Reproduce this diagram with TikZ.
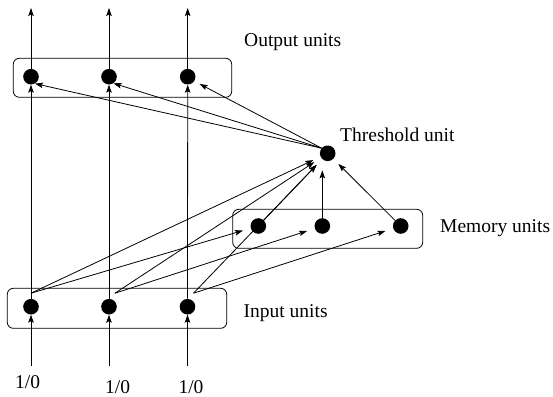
\documentclass[tikz,border=0pt]{standalone}
\usepackage{fontspec}
\setmainfont{Liberation Serif}
\usetikzlibrary{arrows.meta}
\begin{document}
\begin{tikzpicture}[x=1pt,y=-1pt,
 unit/.style={circle,fill=black,inner sep=0pt,minimum size=15.6pt},
 arr/.style={-{Stealth[length=8pt,width=5.5pt,inset=1.5pt]},line width=0.8pt},
 grp/.style={draw,rounded corners=6pt,line width=0.8pt},
 lbl/.style={anchor=base west,inner sep=0pt,font=\fontsize{19.5}{23}\selectfont}]
\useasboundingbox (0,0) rectangle (553,396);

% group boxes
\draw[grp] (13.3,58.3) rectangle (231.7,97.3);
\draw[grp] (7.3,288.3) rectangle (226.7,328.3);
\draw[grp] (232.7,209.3) rectangle (422.7,248.3);

% units
\node[unit] (o1) at (31,76.7) {};
\node[unit] (o2) at (109,76.7) {};
\node[unit] (o3) at (187.7,76.7) {};
\node[unit] (i1) at (31,306.7) {};
\node[unit] (i2) at (109,306.7) {};
\node[unit] (i3) at (187.5,306.7) {};
\node[unit] (m1) at (258.3,226) {};
\node[unit] (m2) at (322.3,226) {};
\node[unit] (m3) at (400.7,226) {};
\node[unit] (thr) at (327.7,153.3) {};

% labels
\node[lbl] (lo) at (244,46) {Output units};
\node[lbl] (lt) at (340,141) {Threshold unit};
\node[lbl] (lm) at (440,232) {Memory units};
\node[lbl] (li) at (243.5,317) {Input units};
\node[lbl] (x1) at (15,388.5) {1/0};
\node[lbl] (x2) at (105,393.3) {1/0};
\node[lbl] (x3) at (178.3,393.3) {1/0};

% free ends
\coordinate (t1) at (31,8);
\coordinate (t2) at (109,8);
\coordinate (t3) at (187.7,8);
\coordinate (b1) at (31,366);
\coordinate (b2) at (109,366);
\coordinate (b3) at (187.5,366);
\coordinate (s1) at ([yshift=5.5pt]i1.north);
\coordinate (s2) at ([xshift=6pt,yshift=5.5pt]i2.north);
\coordinate (s3) at ([xshift=6pt,yshift=5.5pt]i3.north);

% output arrows
\draw[arr] (o1) -- (t1);
\draw[arr] (o2) -- (t2);
\draw[arr] (o3) -- (t3);

% inputs
\draw[arr] (b1) -- (i1);
\draw[arr] (b2) -- (i2);
\draw[arr] (b3) -- (i3);

% input -> output
\draw[arr] (i1.north) -- (o1.south);
\draw[arr] (i2.north) -- (o2.south);
\draw[arr] (i3.north) -- (o3.south);

% threshold -> outputs
\draw[arr] (thr.140) -- (o1.-60);
\draw[arr] (thr.140) -- (o2.-56);
\draw[arr,shorten >=6pt] (thr.140) -- (o3.-34);

% input -> threshold / memory
\draw[arr,shorten >=8pt] (s1) -- (thr);
\draw[arr,shorten >=8pt] (s2) -- (thr);
\draw[arr,shorten >=8pt] (s3) -- (thr);
\draw[arr,shorten >=8pt] (s1) -- (m1);
\draw[arr,shorten >=8pt] (s2) -- (m2);
\draw[arr,shorten >=8pt] (s3) -- (m3);

% memory -> threshold
\draw[arr,shorten >=8pt] (m1) -- (thr);
\draw[arr,shorten >=9pt] (m2.north) -- (m2.north |- thr.south);
\draw[arr,shorten >=7pt] (m3) -- (thr);
\end{tikzpicture}
\end{document}
